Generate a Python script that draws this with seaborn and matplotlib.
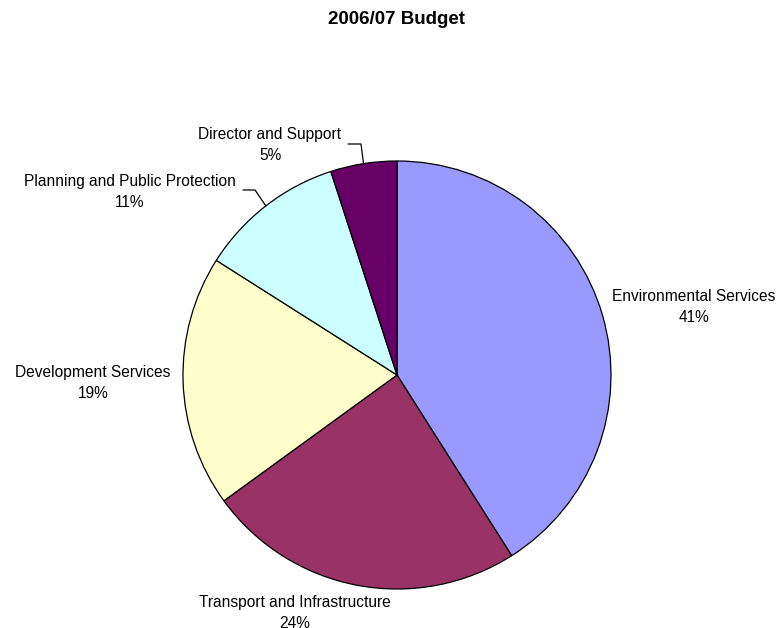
import numpy as np
import matplotlib
matplotlib.use("Agg")
import matplotlib.pyplot as plt
import seaborn as sns

# Budget shares, listed clockwise from twelve o'clock
categories = ["Environmental Services", "Transport and Infrastructure",
              "Development Services", "Planning and Public Protection",
              "Director and Support"]
shares = [41, 24, 19, 11, 5]
colors = ["#9999FF", "#993366", "#FFFFCC", "#CCFFFF", "#660066"]
title = "2006/07 Budget"

sns.set_style("white")
plt.rcParams["font.family"] = ["Liberation Sans", "DejaVu Sans"]

W, H = 779, 628
fig = plt.figure(figsize=(W / 100, H / 100), dpi=100)
ax = fig.add_axes([0, 0, 1, 1])

def Y(py):
    return H - py

cx, cy, r = 397, Y(375), 214

wedges, _ = ax.pie(shares, colors=colors, startangle=90, counterclock=False,
                   center=(cx, cy), radius=r, frame=True,
                   wedgeprops=dict(edgecolor="black", linewidth=0.9))
ax.set_xlim(0, W)
ax.set_ylim(0, H)
ax.set_aspect("equal")
ax.axis("off")

# label anchor (text centre) for each slice, in pixel units
label_pos = [(694, 307), (295, 613), (93, 383), (130, 192), (270, 145)]
fs = 11.2
for name, val, (lx, ly) in zip(categories, shares, label_pos):
    ax.text(lx, Y(ly), f"{name}\n{val}%", ha="center", va="center",
            fontsize=fs, color="black", linespacing=1.45)

# leader lines for the two small slices
cum = np.cumsum([0] + shares)
def rim_point(i):
    mid = (cum[i] + cum[i + 1]) / 2 / sum(shares)
    ang = np.deg2rad(90 - 360 * mid)
    return cx + r * np.cos(ang), cy + r * np.sin(ang)

# Planning and Public Protection
px, py = rim_point(3)
ax.plot([px, 255, 243], [py, Y(190), Y(190)], color="black", lw=0.9)
# Director and Support
dx, dy = rim_point(4)
ax.plot([dx, 361, 348], [dy, Y(144), Y(144)], color="black", lw=0.9)

fig.text(397 / W, 1 - 20 / H, title, ha="center", va="center",
         fontsize=13.5, fontweight="bold", color="black")

fig.savefig("out.png", dpi=100, facecolor="white")
